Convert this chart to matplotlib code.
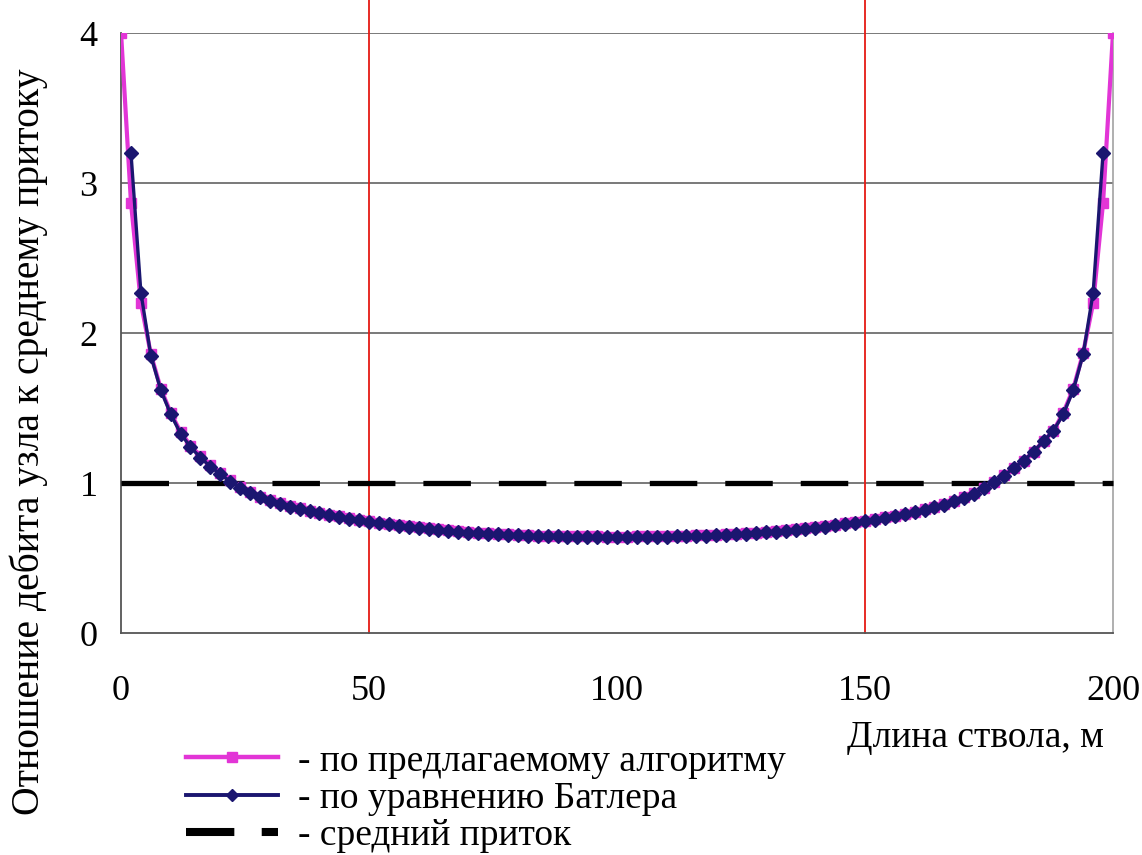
import numpy as np
import matplotlib
matplotlib.use("Agg")
import matplotlib.pyplot as plt
from matplotlib.lines import Line2D

plt.rcParams['font.family'] = ['Liberation Serif', 'DejaVu Serif']

# Node positions along the wellbore, m
x_butler = np.arange(2, 199, 2)
x_algo = np.arange(0, 201, 2)

# Inflow of each node relative to the mean inflow: Butler equation
q_butler = [
    3.20, 2.27, 1.85, 1.62, 1.46, 1.33, 1.24, 1.17, 1.11, 1.06,
    1.01, 0.97, 0.935, 0.905, 0.88, 0.86, 0.843, 0.828, 0.812, 0.798,
    0.786, 0.774, 0.763, 0.752, 0.742, 0.733, 0.725, 0.716, 0.708, 0.700,
    0.693, 0.686, 0.680, 0.674, 0.669, 0.665, 0.661, 0.657, 0.654, 0.651,
    0.649, 0.647, 0.645, 0.644, 0.643, 0.642, 0.641, 0.641, 0.640, 0.640,
    0.640, 0.641, 0.641, 0.642, 0.643, 0.644, 0.646, 0.648, 0.650, 0.652,
    0.655, 0.658, 0.662, 0.666, 0.671, 0.676, 0.682, 0.688, 0.695, 0.702,
    0.710, 0.718, 0.727, 0.736, 0.745, 0.756, 0.767, 0.779, 0.792, 0.806,
    0.821, 0.838, 0.856, 0.877, 0.901, 0.930, 0.965, 1.005, 1.05, 1.10,
    1.15, 1.21, 1.28, 1.35, 1.46, 1.62, 1.86, 2.27, 3.20,
]

# Inflow of each node relative to the mean inflow: proposed algorithm
q_algo = [
    4.00, 2.87, 2.20, 1.86, 1.63, 1.47, 1.34, 1.25, 1.18, 1.12,
    1.065, 1.02, 0.975, 0.94, 0.91, 0.885, 0.865, 0.847, 0.831, 0.816,
    0.802, 0.789, 0.777, 0.766, 0.755, 0.745, 0.736, 0.728, 0.720, 0.712,
    0.705, 0.698, 0.691, 0.685, 0.679, 0.674, 0.669, 0.665, 0.661, 0.658,
    0.655, 0.652, 0.650, 0.648, 0.647, 0.646, 0.645, 0.644, 0.644, 0.643,
    0.643, 0.643, 0.644, 0.644, 0.645, 0.646, 0.647, 0.649, 0.651, 0.653,
    0.656, 0.659, 0.662, 0.666, 0.670, 0.675, 0.680, 0.686, 0.692, 0.699,
    0.706, 0.714, 0.722, 0.731, 0.740, 0.750, 0.760, 0.771, 0.783, 0.796,
    0.810, 0.825, 0.842, 0.860, 0.881, 0.905, 0.934, 0.968, 1.008, 1.052,
    1.10, 1.15, 1.21, 1.28, 1.35, 1.47, 1.63, 1.87, 2.20, 2.87,
    4.00,
]

mean_inflow = 1.0
x_span = [0, 200]
zone_bounds = [50, 150]

x_ticks = [0, 50, 100, 150, 200]
y_ticks = [0, 1, 2, 3, 4]

labels = [
    "- по предлагаемому алгоритму",
    "- по уравнению Батлера",
    "- средний приток",
]
x_label = "Длина ствола, м"
y_label = "Отношение дебита узла к среднему притоку"

pink = "#e235d6"
navy = "#1b1670"

fig = plt.figure(figsize=(11.42, 8.55), dpi=100)
ax = fig.add_axes([0.106, 0.2596, 0.8686, 0.7018])

ax.set_xlim(0, 200)
ax.set_ylim(0, 4)
ax.set_xticks(x_ticks)
ax.set_yticks(y_ticks)
ax.tick_params(length=0, labelsize=26)
ax.tick_params(axis='x', pad=30)
ax.tick_params(axis='y', pad=17)

for y in y_ticks[1:]:
    ax.axhline(y, color="#555555", lw=1.1, zorder=1)

for s in ["left", "bottom"]:
    ax.spines[s].set_color("#555555")
    ax.spines[s].set_linewidth(1.3)
ax.spines["top"].set_visible(False)
ax.spines["right"].set_color("#9a9a9a")
ax.spines["right"].set_linewidth(1.1)

for xb in zone_bounds:
    ax.axvline(xb, ymin=0, ymax=1.056, color="#e51a14", lw=1.3,
               clip_on=False, zorder=2)

ax.plot(x_span, [mean_inflow, mean_inflow], color="black", lw=3.8,
        linestyle=(0, (9.0, 5.3)), zorder=3, clip_on=False)

ax.plot(x_algo, q_algo, color=pink, lw=3.0, marker="s", ms=6.5,
        mec=pink, mfc=pink, zorder=4)
ax.plot(x_butler, q_butler, color=navy, lw=2.4, marker="D", ms=7,
        mec=navy, mfc=navy, zorder=5)

fig.text(0.025, 1 - 442 / 855, y_label, rotation=90, ha="center",
         va="center", fontsize=28.5)
fig.text(975 / 1142, 1 - 738 / 855, x_label, ha="center", va="center",
         fontsize=27)

handles = [
    Line2D([], [], color=pink, lw=3.2, marker="s", ms=7, mec=pink, mfc=pink),
    Line2D([], [], color=navy, lw=2.8, marker="D", ms=6, mec=navy, mfc=navy),
    Line2D([], [], color="black", lw=5.8, linestyle=(0, (6.0, 3.4, 2.5, 10.0))),
]
leg = fig.legend(handles, labels, loc="upper left",
                 bbox_to_anchor=(186 / 1142, 1 - 744 / 855),
                 frameon=False, fontsize=27, handlelength=2.45,
                 handletextpad=0.55, labelspacing=0.07, borderpad=0,
                 borderaxespad=0)

fig.savefig("out.png", dpi=100, facecolor="white")
